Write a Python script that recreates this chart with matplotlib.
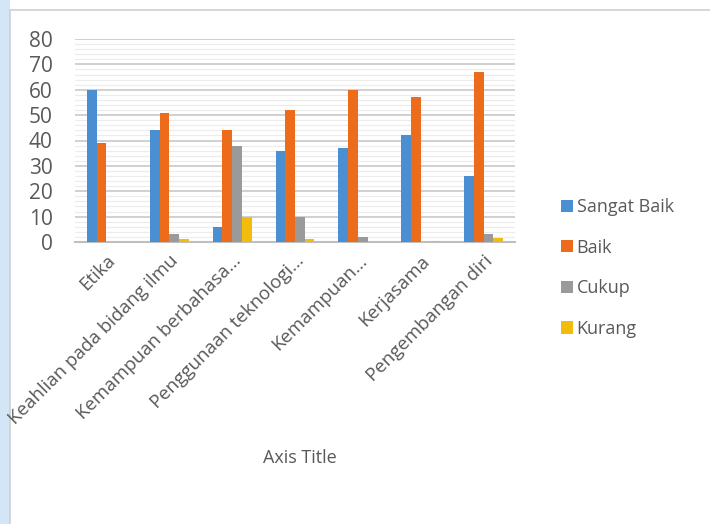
import matplotlib
matplotlib.use("Agg")
import matplotlib.pyplot as plt
import numpy as np
from matplotlib.patches import Rectangle

categories = ["Etika", "Keahlian pada bidang ilmu", "Kemampuan berbahasa...",
              "Penggunaan teknologi...", "Kemampuan...", "Kerjasama", "Pengembangan diri"]
series_names = ["Sangat Baik", "Baik", "Cukup", "Kurang"]
sangat_baik = [60, 44, 6, 36, 37, 42, 26]
baik = [39, 51, 44, 52, 60, 57, 67]
cukup = [0, 3, 38, 10, 2, 0, 3]
kurang = [0, 1, 10, 1, 0, 0.5, 1.5]
yticks = [0, 10, 20, 30, 40, 50, 60, 70, 80]
colors = ["#4a8fd1", "#ec6c1c", "#9a9a9a", "#f2bc0c"]

plt.rcParams['font.family'] = ['Open Sans', 'DejaVu Sans']

fig = plt.figure(figsize=(7.1, 5.24), dpi=100)
fig.patch.set_facecolor("white")
# left light-blue strip and chart frame
fig.patches.append(Rectangle((0, 0), 10/710, 1, transform=fig.transFigure,
                             facecolor="#d3e6f7", edgecolor="none", zorder=-10))
fig.patches.append(Rectangle((10/710, -0.01), 1.0, 1 - 10/524 + 0.01, transform=fig.transFigure,
                             facecolor="white", edgecolor="#d0d0d0", linewidth=1.2, zorder=-9))

ax = fig.add_axes([75/710, 1 - 242/524, 440/710, 203/524])
ax.set_facecolor("none")
ax.set_zorder(5)
x = np.arange(len(categories))
w = 0.155
data = [sangat_baik, baik, cukup, kurang]
for i, (name, vals, c) in enumerate(zip(series_names, data, colors)):
    ax.bar(x + (i - 1.5) * w, vals, width=w, color=c, label=name, zorder=3)

ax.set_ylim(0, 80)
ax.set_xlim(-0.5, len(categories) - 0.5)
ax.set_yticks(yticks)
ax.set_yticks(np.arange(0, 81, 2), minor=True)
ax.grid(axis='y', which='major', color="#c8c8c8", linewidth=1.2, zorder=0)
ax.grid(axis='y', which='minor', color="#ececec", linewidth=0.8, zorder=0)
ax.tick_params(axis='y', which='both', length=0, labelsize=15, labelcolor="#595959", pad=16)
ax.set_xticks(x)
ax.set_xticklabels(categories, rotation=45, ha='right', rotation_mode='anchor',
                   fontsize=13.5, color="#595959")
ax.tick_params(axis='x', length=0, pad=7)
for s in ['top', 'right', 'left']:
    ax.spines[s].set_visible(False)
ax.spines['bottom'].set_color("#bfbfbf")
ax.spines['bottom'].set_linewidth(1.5)
ax.set_axisbelow(True)

fig.text(300/710, 1 - 458/524, "Axis Title", ha='center', va='center', fontsize=13, color="#595959")

leg = ax.legend(loc='center left', bbox_to_anchor=(545/710, 1 - 268/524), bbox_transform=fig.transFigure,
                frameon=False, fontsize=13, labelcolor="#595959", handlelength=0.65, handleheight=0.65,
                handletextpad=0.2, labelspacing=1.25)

fig.savefig("out.png", dpi=100)
